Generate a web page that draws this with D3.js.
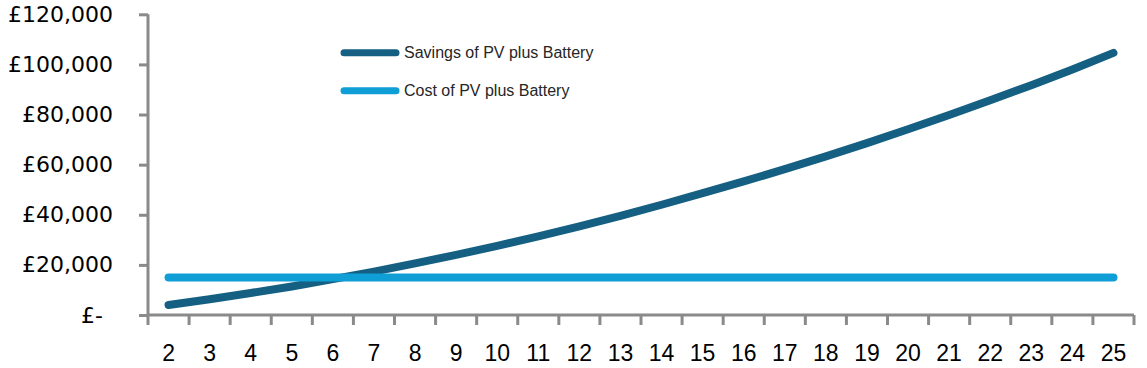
<!DOCTYPE html>
<html>
<head>
<meta charset="utf-8">
<script src="https://cdn.jsdelivr.net/npm/d3@7"></script>
<style>
    body { margin: 0; background: #fff; }
    svg { display: block; }
    .x-label { font-family: "Liberation Sans", Arial, sans-serif; font-size: 23px; fill: #000; }
    .y-label { font-family: "DejaVu Sans", sans-serif; font-size: 22px; fill: #000; }
    .legend-label { font-family: "Liberation Sans", Arial, sans-serif; font-size: 16px; fill: #262626; }
</style>
</head>
<body>
<div id="chart"></div>
<script>
// years on the x axis
const years = [2, 3, 4, 5, 6, 7, 8, 9, 10, 11, 12, 13, 14, 15, 16, 17, 18, 19, 20, 21, 22, 23, 24, 25];
// cumulative savings (GBP)
const savings = [4000, 6300, 8800, 11400, 14300, 17300, 20600, 24000, 27600, 31400, 35400, 39600,
    44000, 48600, 53300, 58200, 63300, 68600, 74100, 79800, 85700, 91700, 98000, 104600];
// installed cost (GBP), flat
const cost = [15000, 15000, 15000, 15000, 15000, 15000, 15000, 15000, 15000, 15000, 15000, 15000,
    15000, 15000, 15000, 15000, 15000, 15000, 15000, 15000, 15000, 15000, 15000, 15000];
const yTicks = [0, 20000, 40000, 60000, 80000, 100000, 120000];
const seriesNames = ["Savings of PV plus Battery", "Cost of PV plus Battery"];
const seriesColors = ["#156082", "#0F9ED5"];

const width = 1147, height = 368;
const axisColor = "#8a8a8a";

let svg = d3.select("#chart").append("svg")
    .attr("width", width)
    .attr("height", height);

let x = d3.scaleBand()
    .domain(years)
    .range([148, 1134])
    .padding(0);

let y = d3.scaleLinear()
    .domain([0, 120000])
    .range([315, 14.3]);

//y axis, labels in accounting style
let yAxis = d3.axisLeft(y)
    .tickValues(yTicks)
    .tickSize(9)
    .tickPadding(26)
    .tickFormat(function(d) {
        return d === 0 ? "£-" : "£" + d3.format(",")(d);
    });

let yG = svg.append("g")
    .attr("transform", "translate(" + 148 + ",0)")
    .call(yAxis);
yG.select(".domain").attr("stroke", axisColor).attr("stroke-width", 3).attr("d", "M0," + y(120000) + "V" + y(0));
yG.selectAll(".tick line").attr("stroke", axisColor).attr("stroke-width", 3);
yG.selectAll(".tick text")
    .attr("class", "y-label")
    .attr("font-family", null)
    .attr("font-size", null)
    .attr("dx", function(d) { return d === 0 ? -10 : 0; });

//x axis, ticks between categories
let xAxisG = svg.append("g").attr("transform", "translate(0," + y(0) + ")");
xAxisG.append("line")
    .attr("x1", x(years[0]))
    .attr("x2", x(years[years.length - 1]) + x.bandwidth())
    .attr("stroke", axisColor)
    .attr("stroke-width", 3);

let boundaries = years.map(function(d) { return x(d); }).concat([x(years[years.length - 1]) + x.bandwidth()]);
xAxisG.selectAll("line.xtick")
    .data(boundaries)
    .enter().append("line")
    .attr("class", "xtick")
    .attr("x1", function(d) { return d; })
    .attr("x2", function(d) { return d; })
    .attr("y1", 0)
    .attr("y2", 10)
    .attr("stroke", axisColor)
    .attr("stroke-width", 3);

xAxisG.selectAll("text")
    .data(years)
    .enter().append("text")
    .attr("class", "x-label")
    .attr("text-anchor", "middle")
    .attr("x", function(d) { return x(d) + x.bandwidth() / 2; })
    .attr("y", 46)
    .text(function(d) { return d; });

let line = d3.line()
    .x(function(d, i) { return x(years[i]) + x.bandwidth() / 2; })
    .y(function(d) { return y(d); });

[savings, cost].forEach(function(s, sIdx) {
    svg.append("path")
        .attr("d", line(s))
        .attr("fill", "none")
        .attr("stroke", seriesColors[sIdx])
        .attr("stroke-width", 8)
        .attr("stroke-linecap", "round")
        .attr("stroke-linejoin", "round");
});

//legend
let legend = svg.append("g").attr("transform", "translate(340,52.7)");
seriesNames.forEach(function(n, i) {
    let g = legend.append("g").attr("transform", "translate(0," + (i * 38) + ")");
    g.append("line")
        .attr("x1", 4).attr("x2", 56)
        .attr("stroke", seriesColors[i])
        .attr("stroke-width", 7)
        .attr("stroke-linecap", "round");
    g.append("text")
        .attr("class", "legend-label")
        .attr("x", 64)
        .attr("dy", "0.36em")
        .text(n);
});
</script>
</body>
</html>
